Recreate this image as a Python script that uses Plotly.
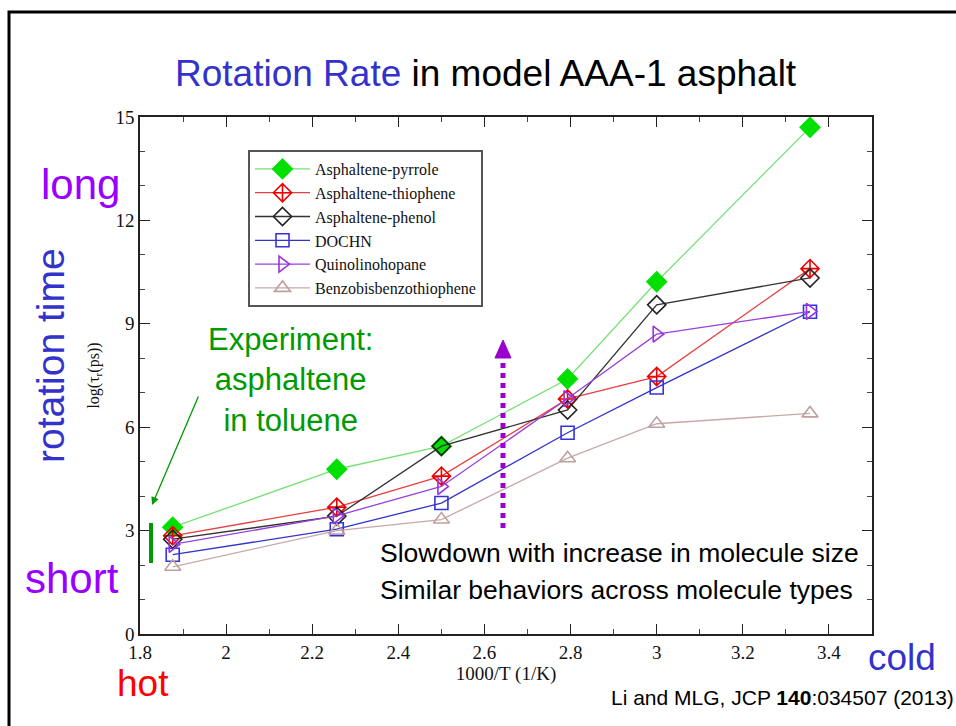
import plotly.graph_objects as go

# ---- data ----
inv_T = [1.876, 2.257, 2.5, 2.793, 3.0, 3.356]
series_names = ["Asphaltene-pyrrole", "Asphaltene-thiophene", "Asphaltene-phenol",
                "DOCHN", "Quinolinohopane", "Benzobisbenzothiophene"]
pyrrole = [3.1, 4.78, 5.45, 7.4, 10.22, 14.7]
thiophene = [2.85, 3.68, 4.58, 6.82, 7.47, 10.6]
phenol = [2.75, 3.42, 5.45, 6.5, 9.55, 10.33]
dochn = [2.3, 3.04, 3.8, 5.84, 7.15, 9.35]
quinolino = [2.6, 3.43, 4.28, 6.83, 8.7, 9.36]
benzo = [1.95, 3.0, 3.32, 5.1, 6.1, 6.4]
x_ticks = [1.8, 2, 2.2, 2.4, 2.6, 2.8, 3, 3.2, 3.4]
y_ticks = [0, 3, 6, 9, 12, 15]

# ---- geometry (pixels) ----
W, H = 956, 726
L, R, T, B = 140, 84, 117, 92
PW, PH = W - L - R, H - T - B


def px(X):
    return (X - L) / PW


def py(Y):
    return (H - B - Y) / PH


SERIF = "Liberation Serif, Times New Roman, serif"
SANS = "Liberation Sans, Arial, sans-serif"

styles = [
    dict(line="#77e077", mcolor="#00e000", symbol="diamond", size=15),
    dict(line="#e84040", mcolor="#ee0000", symbol="diamond-cross-open", size=14),
    dict(line="#333333", mcolor="#222222", symbol="diamond-open", size=14),
    dict(line="#3333cc", mcolor="#3333dd", symbol="square-open", size=13),
    dict(line="#9940dd", mcolor="#9933dd", symbol="triangle-right-open", size=14),
    dict(line="#c8a8a8", mcolor="#c0a0a0", symbol="triangle-up-open", size=14),
]
values = [pyrrole, thiophene, phenol, dochn, quinolino, benzo]

fig = go.Figure()
for name, vals, st in zip(series_names, values, styles):
    fig.add_trace(go.Scatter(
        x=inv_T, y=vals, name=name, mode="lines+markers",
        line=dict(color=st["line"], width=1.3),
        marker=dict(symbol=st["symbol"], size=st["size"],
                    color=st["mcolor"], line=dict(color=st["mcolor"], width=1.6)),
    ))

axis_common = dict(showgrid=False, zeroline=False, showline=True, linecolor="#222",
                   linewidth=1.5, mirror="ticks", ticks="inside", ticklen=10,
                   tickwidth=1.2, tickcolor="#222",
                   tickfont=dict(family=SERIF, size=19, color="#111"))

fig.update_xaxes(range=[1.8, 3.5], tickvals=x_ticks, ticktext=[str(v) for v in x_ticks],
                 minor=dict(dtick=0.1, ticks="inside", ticklen=5, tickcolor="#444"),
                 title=dict(text="1000/T (1/K)", font=dict(family=SERIF, size=19, color="#111"),
                            standoff=2),
                 **axis_common)
fig.update_yaxes(range=[0, 15], tickvals=y_ticks,
                 minor=dict(dtick=1, ticks="inside", ticklen=5, tickcolor="#444"),
                 title=dict(text="log(τ<sub>r</sub>(ps))", font=dict(family=SERIF, size=16, color="#111"),
                            standoff=12),
                 **axis_common)

annotations = [
    dict(x=px(486), y=py(73),
         text="<span style='color:#3333cc'>Rotation Rate</span> in model AAA-1 asphalt",
         font=dict(family=SANS, size=37, color="#000")),
    dict(x=px(80), y=py(184), text="long", font=dict(family=SANS, size=42, color="#9900ff")),
    dict(x=px(72), y=py(578), text="short", font=dict(family=SANS, size=42, color="#9900ff")),
    dict(x=px(50), y=py(356), text="rotation time", textangle=-90,
         font=dict(family=SANS, size=39, color="#3333cc")),
    dict(x=px(143), y=py(683), text="hot", font=dict(family=SANS, size=37, color="#ff0000")),
    dict(x=px(902), y=py(657), text="cold", font=dict(family=SANS, size=37, color="#3333cc")),
    dict(x=px(609), y=py(697), xanchor="left", text="Li and MLG, JCP <b>140</b>:034507 (2013)",
         font=dict(family=SANS, size=21, color="#000")),
    dict(x=px(290), y=py(380), text="Experiment:<br>asphaltene<br>in toluene",
         font=dict(family=SANS, size=31, color="#009900")),
    dict(x=px(378), y=py(553), xanchor="left", text="Slowdown with increase in molecule size",
         font=dict(family=SANS, size=26.5, color="#000")),
    dict(x=px(378), y=py(590), xanchor="left", text="Similar behaviors across molecule types",
         font=dict(family=SANS, size=26.5, color="#000")),
]
for a in annotations:
    a.setdefault("xref", "paper")
    a.setdefault("yref", "paper")
    a.setdefault("xanchor", "center")
    a.setdefault("yanchor", "middle")
    a.setdefault("showarrow", False)

annotations.append(dict(xref="paper", yref="paper", x=px(152), y=py(505), text="",
                        showarrow=True, ax=47, ay=-110, arrowhead=2, arrowsize=1.2,
                        arrowwidth=1.3, arrowcolor="#009900"))

shapes = [
    # slide frame
    dict(type="rect", xref="paper", yref="paper", x0=px(9), x1=px(970), y0=py(740), y1=py(12),
         line=dict(color="#000", width=3)),
    # experiment bar
    dict(type="line", xref="paper", yref="paper", x0=px(151), x1=px(151), y0=py(523), y1=py(563),
         line=dict(color="#009900", width=4)),
    # dotted arrow shaft
    dict(type="line", xref="paper", yref="paper", x0=px(503), x1=px(503), y0=py(528), y1=py(357),
         line=dict(color="#9900cc", width=5, dash="dot")),
    # arrow head
    dict(type="path", xref="paper", yref="paper",
         path=f"M {px(495)} {py(358)} L {px(511)} {py(358)} L {px(503)} {py(340)} Z",
         fillcolor="#9900cc", line=dict(color="#9900cc", width=1)),
]

fig.update_layout(
    width=W, height=H, margin=dict(l=L, r=R, t=T, b=B),
    paper_bgcolor="white", plot_bgcolor="white",
    annotations=annotations, shapes=shapes,
    legend=dict(x=px(248), y=py(150), xanchor="left", yanchor="top",
                bgcolor="white", bordercolor="#555", borderwidth=2,
                font=dict(family=SERIF, size=16, color="#111"),
                tracegroupgap=0, itemwidth=55),
)

fig.write_html("out.html")
